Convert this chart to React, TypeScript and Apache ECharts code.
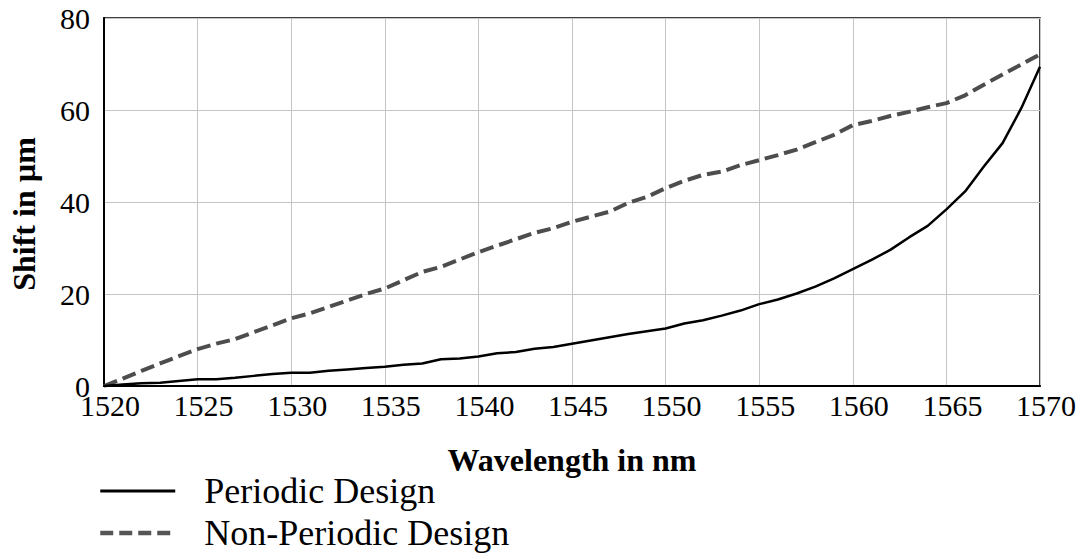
import React, { useEffect, useRef } from "react";
import * as echarts from "echarts";

const wavelengths = [
  1520, 1521, 1522, 1523, 1524, 1525, 1526, 1527, 1528, 1529,
  1530, 1531, 1532, 1533, 1534, 1535, 1536, 1537, 1538, 1539,
  1540, 1541, 1542, 1543, 1544, 1545, 1546, 1547, 1548, 1549,
  1550, 1551, 1552, 1553, 1554, 1555, 1556, 1557, 1558, 1559,
  1560, 1561, 1562, 1563, 1564, 1565, 1566, 1567, 1568, 1569, 1570,
];

const periodicShift = [
  0, 0.3, 0.6, 0.7, 1.1, 1.45, 1.45, 1.8, 2.2, 2.6,
  2.9, 2.9, 3.3, 3.6, 3.9, 4.2, 4.6, 4.9, 5.8, 6.0,
  6.4, 7.1, 7.4, 8.1, 8.5, 9.2, 9.9, 10.6, 11.3, 11.9,
  12.5, 13.6, 14.3, 15.3, 16.4, 17.8, 18.8, 20.1, 21.6, 23.4,
  25.4, 27.4, 29.6, 32.3, 34.8, 38.4, 42.3, 47.7, 52.8, 60.4, 69.4,
];

const nonPeriodicShift = [
  0, 1.6, 3.3, 4.9, 6.5, 8.0, 9.2, 10.2, 11.7, 13.2,
  14.7, 15.8, 17.2, 18.6, 20.0, 21.2, 23.0, 24.8, 25.9, 27.5,
  29.1, 30.5, 31.9, 33.3, 34.3, 35.7, 36.8, 37.9, 39.8, 41.1,
  43.0, 44.6, 45.9, 46.6, 48.0, 49.1, 50.2, 51.4, 53.0, 54.6,
  56.7, 57.6, 58.7, 59.6, 60.6, 61.5, 63.2, 65.5, 67.7, 69.9, 72.1,
];

const seriesNames = ["Periodic Design", "Non-Periodic Design"];
const xAxisTitle = "Wavelength in nm";
const yAxisTitle = "Shift in µm";

const FONT = "'Liberation Serif', 'Times New Roman', serif";

export default function App() {
  const ref = useRef<HTMLDivElement>(null);

  useEffect(() => {
    if (!ref.current) return;
    const chart = echarts.init(ref.current, undefined, { renderer: "svg" });
    const pair = (ys: number[]) => wavelengths.map((x, i) => [x, ys[i]]);
    chart.setOption({
      animation: false,
      backgroundColor: "#ffffff",
      grid: {
        left: 101,
        top: 18,
        right: 46,
        bottom: 173,
        show: true,
        borderColor: "#000",
        borderWidth: 1.5,
        backgroundColor: "transparent",
      },
      legend: {
        orient: "vertical",
        left: 98,
        top: 471,
        padding: 0,
        itemWidth: 75,
        itemHeight: 20,
        itemGap: 2,
        itemStyle: { opacity: 0 },
        textStyle: {
          fontFamily: FONT,
          fontSize: 36,
          color: "#000",
          lineHeight: 40,
          padding: [0, 0, 0, 24],
        },
        data: [
          {
            name: seriesNames[0],
            lineStyle: { color: "#000", width: 3, type: "solid" },
          },
          {
            name: seriesNames[1],
            lineStyle: { color: "#555", width: 4.5, type: [13, 6] },
          },
        ],
      },
      xAxis: {
        type: "value",
        min: 1520,
        max: 1570,
        interval: 5,
        name: xAxisTitle,
        nameLocation: "middle",
        nameGap: 58,
        nameTextStyle: {
          fontFamily: FONT,
          fontSize: 32,
          fontWeight: "bold",
          color: "#000",
        },
        axisLine: { show: true, lineStyle: { color: "#000", width: 2 } },
        axisTick: { show: false },
        axisLabel: {
          fontFamily: FONT,
          fontSize: 30,
          color: "#000",
          margin: 4,
          padding: [0, 0, 0, 12],
          formatter: (v: number) => String(v),
        },
        splitLine: { show: true, lineStyle: { color: "#c4c4c4", width: 1 } },
      },
      yAxis: {
        type: "value",
        min: 0,
        max: 80,
        interval: 20,
        name: yAxisTitle,
        nameLocation: "middle",
        nameGap: 64,
        nameTextStyle: {
          fontFamily: FONT,
          fontSize: 32,
          fontWeight: "bold",
          color: "#000",
          padding: [0, 24, 0, 0],
        },
        axisLine: { show: true, lineStyle: { color: "#000", width: 2 } },
        axisTick: { show: false },
        axisLabel: {
          fontFamily: FONT,
          fontSize: 30,
          color: "#000",
          margin: 14,
          formatter: (v: number) => String(v),
        },
        splitLine: { show: true, lineStyle: { color: "#c4c4c4", width: 1 } },
      },
      series: [
        {
          name: seriesNames[0],
          type: "line",
          data: pair(periodicShift),
          symbol: "none",
          lineStyle: { color: "#000", width: 2.5, type: "solid" },
          itemStyle: { color: "#000" },
          z: 3,
        },
        {
          name: seriesNames[1],
          type: "line",
          data: pair(nonPeriodicShift),
          symbol: "none",
          lineStyle: { color: "#4d4d4d", width: 4, type: [14, 6] },
          itemStyle: { color: "#4d4d4d" },
          z: 2,
        },
      ],
    });
    return () => chart.dispose();
  }, []);

  return (
    <div
      ref={ref}
      style={{ position: "fixed", left: 0, top: 0, width: 1086, height: 559, background: "#fff" }}
    />
  );
}
